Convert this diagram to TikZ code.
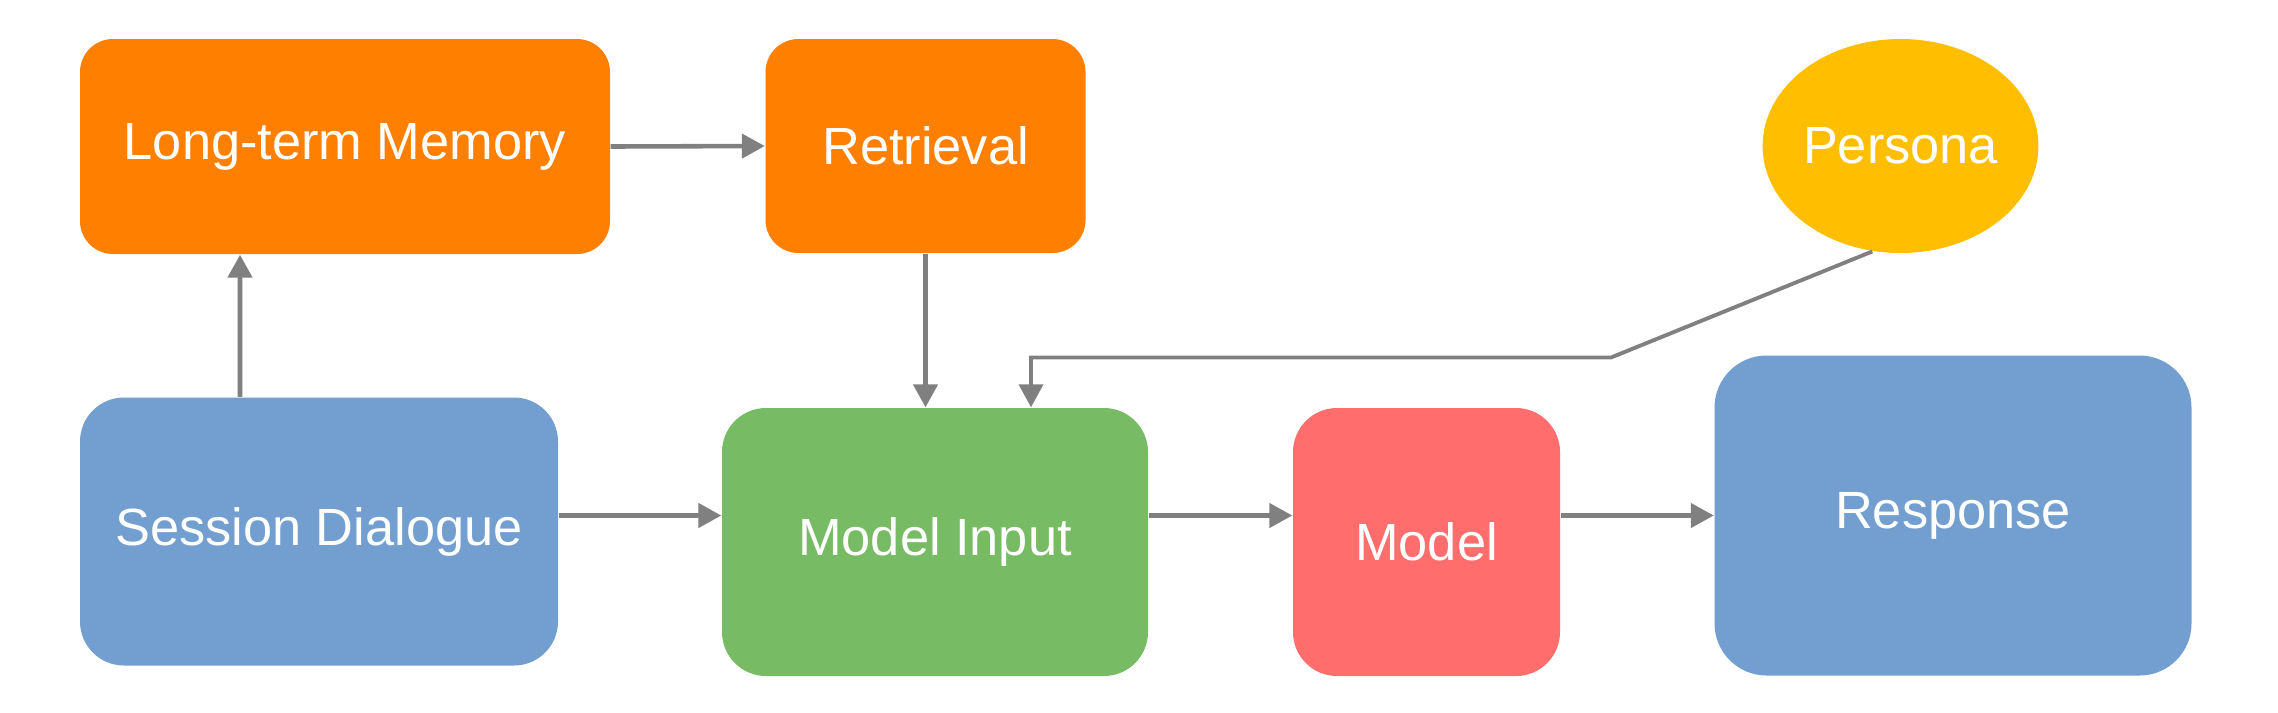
\documentclass[tikz,border=0pt]{standalone}
\usepackage{fontspec}
\setmainfont{Liberation Sans}
\usetikzlibrary{arrows.meta,shapes.geometric}
\definecolor{boxorange}{HTML}{FF8000}
\definecolor{boxyellow}{HTML}{FFBF00}
\definecolor{boxblue}{HTML}{729FCF}
\definecolor{boxgreen}{HTML}{77BC65}
\definecolor{boxred}{HTML}{FF6D6D}
\definecolor{linegray}{HTML}{808080}

\begin{document}
\begin{tikzpicture}[
  box/.style={rectangle,draw=none,text=white,inner sep=0pt,
    font=\fontsize{14.9}{18}\selectfont},
  arr/.style={draw=linegray,line width=1.3pt,
    -{Triangle[length=0.23cm,width=0.24cm]}}]
\useasboundingbox (0,0) rectangle (22.78,-7.12);
% top row
\node[box,fill=boxorange,rounded corners=0.33cm,minimum width=5.30cm,minimum height=2.15cm]
  (ltm) at (3.45,-1.465) {Long-term Memory};
\node[box,fill=boxorange,rounded corners=0.33cm,minimum width=3.20cm,minimum height=2.14cm]
  (ret) at (9.255,-1.46) {Retrieval};
\node[box,ellipse,fill=boxyellow,minimum width=2.68cm,minimum height=2.14cm]
  (persona) at (19.005,-1.46) {Persona};
% bottom row
\node[box,fill=boxblue,rounded corners=0.44cm,minimum width=4.78cm,minimum height=2.68cm]
  (sd) at (3.19,-5.315) {Session Dialogue};
\node[box,fill=boxgreen,rounded corners=0.44cm,minimum width=4.26cm,minimum height=2.68cm]
  (mi) at (9.35,-5.42) {Model Input};
\node[box,fill=boxred,rounded corners=0.44cm,minimum width=2.67cm,minimum height=2.68cm]
  (model) at (14.265,-5.42) {Model};
\node[box,fill=boxblue,rounded corners=0.52cm,minimum width=4.77cm,minimum height=3.20cm]
  (resp) at (19.53,-5.155) {Response};
\coordinate (bend) at (16.11,-3.575);

\draw[arr] (ltm.east) -- (ret.west);
\draw[arr] ([xshift=-0.79cm]sd.north) -- ([xshift=-1.05cm]ltm.south);
\draw[arr] (ret.south) -- (ret.south |- mi.north);
\draw[arr,line width=1.1pt] (persona.255) -- (bend) -| ([xshift=0.96cm]mi.north);
\draw[arr] (sd.east |- resp) -- (mi.west |- resp);
\draw[arr] (mi.east |- resp) -- (model.west |- resp);
\draw[arr] (model.east |- resp) -- (resp.west);
\end{tikzpicture}
\end{document}
